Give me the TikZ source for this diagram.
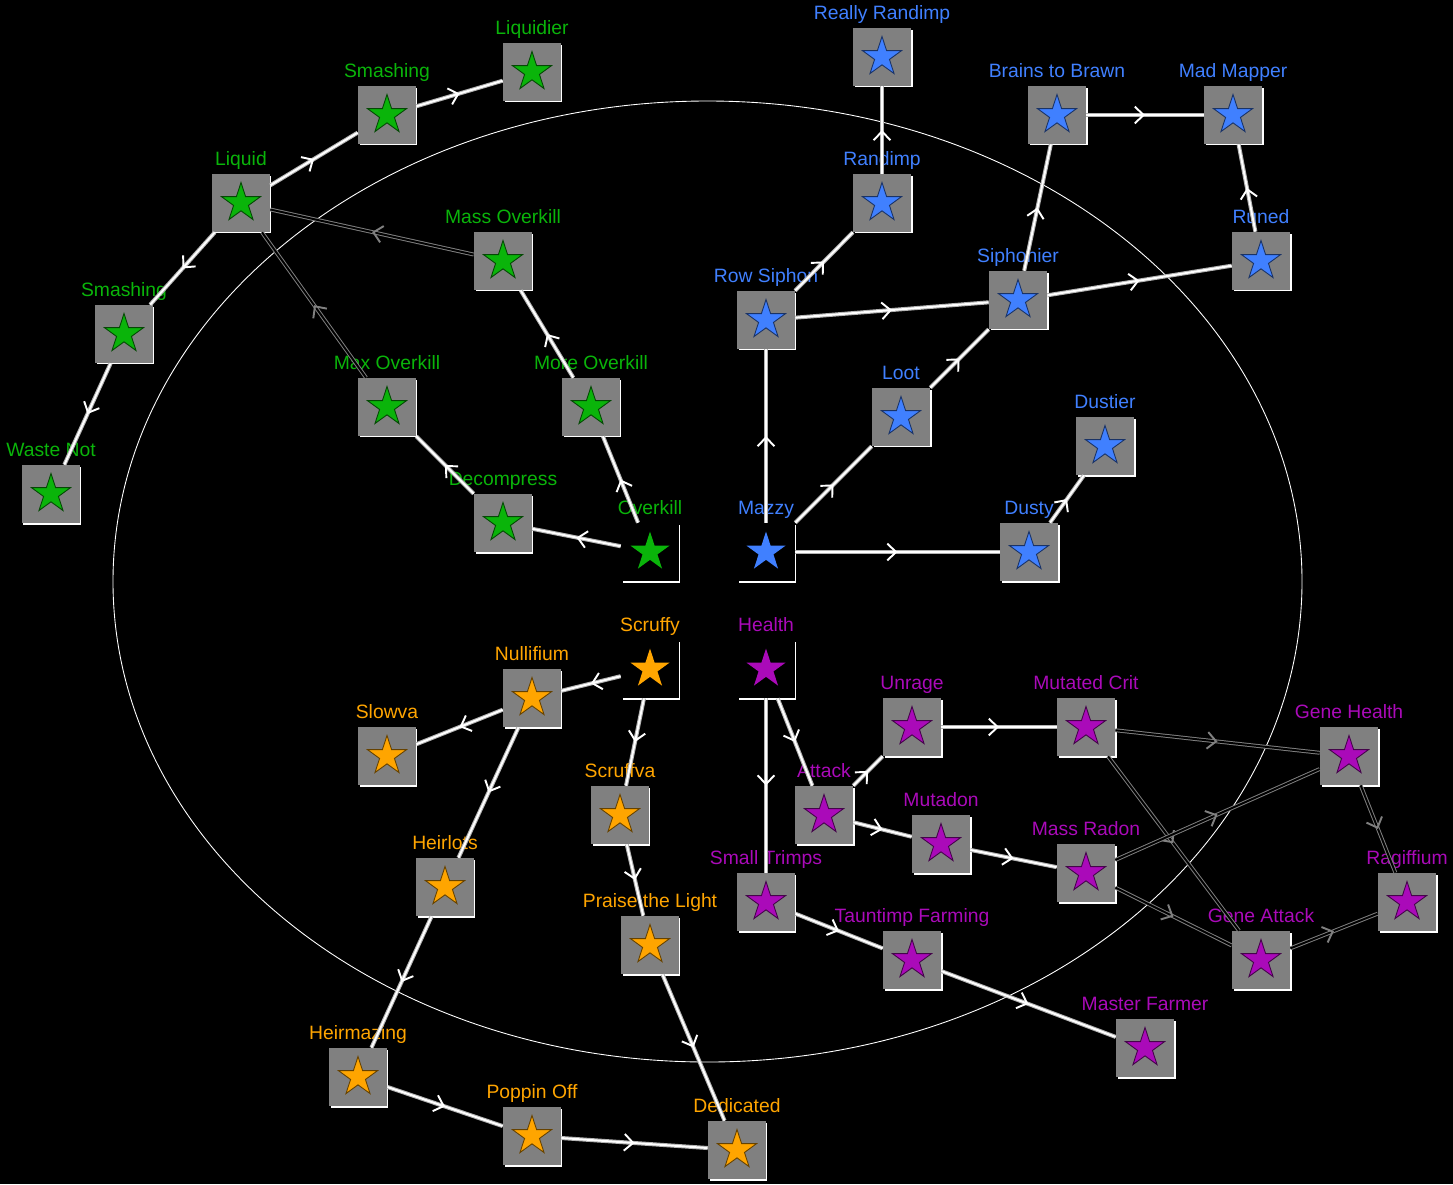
\documentclass[tikz,border=0pt]{standalone}
\usepackage{fontspec}
\setmainfont{Liberation Sans}
\usetikzlibrary{shapes.geometric,shadows,decorations.markings,arrows.meta}
\definecolor{grn}{RGB}{10,180,10}
\definecolor{blu}{RGB}{64,128,255}
\definecolor{orn}{RGB}{255,165,0}
\definecolor{prp}{RGB}{170,10,185}
\definecolor{boxgray}{RGB}{128,128,128}
\tikzset{
    starmark/.style={star, star points=5, star point ratio=2.618, minimum size=0.82cm, inner sep=0pt},
    lbl/.style={text=#1, font=\fontsize{11}{13}\selectfont, inner sep=0pt, text depth=0pt, yshift=0.16cm},
    perk/.style={rectangle, fill=boxgray, minimum size=1.16cm, inner sep=0pt,
        general shadow={fill=white, shadow xshift=0.85pt, shadow yshift=-0.85pt},
        label={[starmark, fill=#1, draw=#1!40!black, line width=0.5pt]center:}},
    root/.style={rectangle, fill=black, minimum size=1.16cm, inner sep=0pt,
        general shadow={fill=white, shadow xshift=0.85pt, shadow yshift=-0.85pt},
        label={[starmark, fill=#1]center:}},
    link/.style={draw=black!30, double=white, double distance=1.1pt, line width=0.6pt,
        postaction={decorate, decoration={markings, mark=at position 0.5 with {\arrow{Straight Barb[color=white, line width=1.1pt, length=5pt, width=9.5pt]}}}}},
    dimlink/.style={draw=black!50, double=black, double distance=1.1pt, line width=0.55pt,
        postaction={decorate, decoration={markings, mark=at position 0.5 with {\arrow{Straight Barb[color=black!50, line width=1.1pt, length=5pt, width=9.5pt]}}}}}
}
\begin{document}
\begin{tikzpicture}[x=0.02cm, y=-0.02cm]
    \useasboundingbox (0, 0) rectangle (1453, 1184);
    \fill[black] (0, 0) rectangle (1453, 1184);
    \draw[white, line width=0.5pt] (707.5, 581.5) ellipse [x radius=594.5, y radius=480.5];

    \node[root=grn, label={[lbl=grn]above:Overkill}] (overkill) at (650, 552) {};
    \node[perk=grn, label={[lbl=grn]above:Decompress}] (decompress) at (503, 523) {};
    \node[perk=grn, label={[lbl=grn]above:Max Overkill}] (maxoverkill) at (387, 407) {};
    \node[perk=grn, label={[lbl=grn]above:More Overkill}] (moreoverkill) at (591, 407) {};
    \node[perk=grn, label={[lbl=grn]above:Mass Overkill}] (massoverkill) at (503, 261) {};
    \node[perk=grn, label={[lbl=grn]above:Liquid}] (liquid) at (241, 203) {};
    \node[perk=grn, label={[lbl=grn]above:Smashing}] (smashinga) at (387, 115) {};
    \node[perk=grn, label={[lbl=grn]above:Liquidier}] (liquidier) at (532, 72) {};
    \node[perk=grn, label={[lbl=grn]above:Smashing}] (smashingb) at (124, 334) {};
    \node[perk=grn, label={[lbl=grn]above:Waste Not}] (wastenot) at (51, 494) {};

    \node[root=blu, label={[lbl=blu]above:Mazzy}] (mazzy) at (766, 552) {};
    \node[perk=blu, label={[lbl=blu]above:Row Siphon}] (rowsiphon) at (766, 320) {};
    \node[perk=blu, label={[lbl=blu]above:Randimp}] (randimp) at (882, 203) {};
    \node[perk=blu, label={[lbl=blu]above:Really Randimp}] (reallyrandimp) at (882, 57) {};
    \node[perk=blu, label={[lbl=blu]above:Loot}] (loot) at (901, 417) {};
    \node[perk=blu, label={[lbl=blu]above:Siphonier}] (siphonier) at (1018, 300) {};
    \node[perk=blu, label={[lbl=blu]above:Brains to Brawn}] (brains) at (1057, 115) {};
    \node[perk=blu, label={[lbl=blu]above:Mad Mapper}] (madmapper) at (1233, 115) {};
    \node[perk=blu, label={[lbl=blu]above:Runed}] (runed) at (1261, 261) {};
    \node[perk=blu, label={[lbl=blu]above:Dusty}] (dusty) at (1029, 552) {};
    \node[perk=blu, label={[lbl=blu]above:Dustier}] (dustier) at (1105, 446) {};

    \node[root=orn, label={[lbl=orn]above:Scruffy}] (scruffy) at (650, 669) {};
    \node[perk=orn, label={[lbl=orn]above:Nullifium}] (nullifium) at (532, 698) {};
    \node[perk=orn, label={[lbl=orn]above:Slowva}] (slowva) at (387, 756) {};
    \node[perk=orn, label={[lbl=orn]above:Scruffva}] (scruffva) at (620, 815) {};
    \node[perk=orn, label={[lbl=orn]above:Heirlots}] (heirlots) at (445, 887) {};
    \node[perk=orn, label={[lbl=orn]above:Praise the Light}] (praise) at (650, 945) {};
    \node[perk=orn, label={[lbl=orn]above:Heirmazing}] (heirmazing) at (358, 1077) {};
    \node[perk=orn, label={[lbl=orn]above:Poppin Off}] (poppin) at (532, 1136) {};
    \node[perk=orn, label={[lbl=orn]above:Dedicated}] (dedicated) at (737, 1150) {};

    \node[root=prp, label={[lbl=prp]above:Health}] (health) at (766, 669) {};
    \node[perk=prp, label={[lbl=prp]above:Attack}] (attack) at (824, 815) {};
    \node[perk=prp, label={[lbl=prp]above:Unrage}] (unrage) at (912, 727) {};
    \node[perk=prp, label={[lbl=prp]above:Mutated Crit}] (mutatedcrit) at (1086, 727) {};
    \node[perk=prp, label={[lbl=prp]above:Mutadon}] (mutadon) at (941, 844) {};
    \node[perk=prp, label={[lbl=prp]above:Mass Radon}] (massradon) at (1086, 873) {};
    \node[perk=prp, label={[lbl=prp]above:Small Trimps}] (smalltrimps) at (766, 902) {};
    \node[perk=prp, label={[lbl=prp]above:Tauntimp Farming}] (tauntimp) at (912, 960) {};
    \node[perk=prp, label={[lbl=prp]above:Master Farmer}] (masterfarmer) at (1145, 1048) {};
    \node[perk=prp, label={[lbl=prp]above:Gene Health}] (genehealth) at (1349, 756) {};
    \node[perk=prp, label={[lbl=prp]above:Ragiffium}] (ragiffium) at (1407, 902) {};
    \node[perk=prp, label={[lbl=prp]above:Gene Attack}] (geneattack) at (1261, 960) {};

    \draw[link] (overkill) -- (decompress);
    \draw[link] (decompress) -- (maxoverkill);
    \draw[dimlink] (maxoverkill) -- (liquid);
    \draw[link] (overkill) -- (moreoverkill);
    \draw[link] (moreoverkill) -- (massoverkill);
    \draw[dimlink] (massoverkill) -- (liquid);
    \draw[link] (liquid) -- (smashinga);
    \draw[link] (smashinga) -- (liquidier);
    \draw[link] (liquid) -- (smashingb);
    \draw[link] (smashingb) -- (wastenot);

    \draw[link] (mazzy) -- (rowsiphon);
    \draw[link] (rowsiphon) -- (randimp);
    \draw[link] (randimp) -- (reallyrandimp);
    \draw[link] (rowsiphon) -- (siphonier);
    \draw[link] (mazzy) -- (loot);
    \draw[link] (loot) -- (siphonier);
    \draw[link] (siphonier) -- (brains);
    \draw[link] (brains) -- (madmapper);
    \draw[link] (siphonier) -- (runed);
    \draw[link] (runed) -- (madmapper);
    \draw[link] (mazzy) -- (dusty);
    \draw[link] (dusty) -- (dustier);

    \draw[link] (scruffy) -- (nullifium);
    \draw[link] (nullifium) -- (slowva);
    \draw[link] (nullifium) -- (heirlots);
    \draw[link] (heirlots) -- (heirmazing);
    \draw[link] (heirmazing) -- (poppin);
    \draw[link] (poppin) -- (dedicated);
    \draw[link] (scruffy) -- (scruffva);
    \draw[link] (scruffva) -- (praise);
    \draw[link] (praise) -- (dedicated);

    \draw[link] (health) -- (attack);
    \draw[link] (health) -- (smalltrimps);
    \draw[link] (attack) -- (unrage);
    \draw[link] (attack) -- (mutadon);
    \draw[link] (unrage) -- (mutatedcrit);
    \draw[link] (mutadon) -- (massradon);
    \draw[link] (smalltrimps) -- (tauntimp);
    \draw[link] (tauntimp) -- (masterfarmer);
    \draw[dimlink] (mutatedcrit) -- (genehealth);
    \draw[dimlink] (mutatedcrit) -- (geneattack);
    \draw[dimlink] (massradon) -- (genehealth);
    \draw[dimlink] (massradon) -- (geneattack);
    \draw[dimlink] (genehealth) -- (ragiffium);
    \draw[dimlink] (geneattack) -- (ragiffium);
\end{tikzpicture}
\end{document}
